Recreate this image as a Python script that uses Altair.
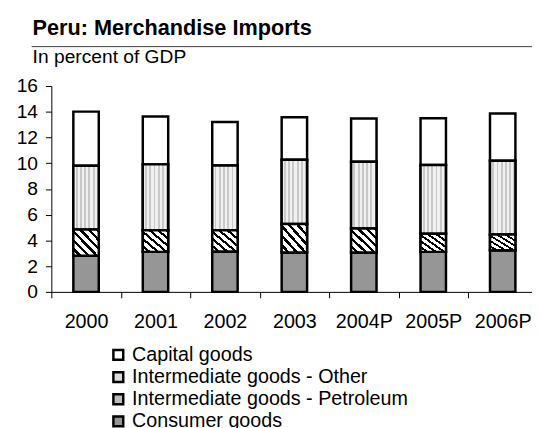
import altair as alt
import pandas as pd

years = ["2000", "2001", "2002", "2003", "2004P", "2005P", "2006P"]
consumer = [2.80, 3.11, 3.13, 3.06, 3.06, 3.11, 3.24]
petroleum = [2.04, 1.68, 1.66, 2.21, 1.86, 1.40, 1.22]
other = [4.97, 5.12, 5.04, 5.00, 5.19, 5.35, 5.73]
capital = [4.20, 3.72, 3.37, 3.31, 3.37, 3.64, 3.67]

cats = ["Consumer goods", "Intermediate goods - Petroleum",
        "Intermediate goods - Other", "Capital goods"]
series = [consumer, petroleum, other, capital]

rows = []
for ci, (c, vals) in enumerate(zip(cats, series)):
    for y, v in zip(years, vals):
        rows.append({"year": y, "category": c, "value": v, "order": ci})
df = pd.DataFrame(rows)

FONT = "Arial, Liberation Sans"

def stripes(n, c1, c2, frac, x1, y1, x2, y2):
    stops = []
    for i in range(n):
        a = i / n
        b = (i + frac) / n
        e = (i + 1) / n
        stops += [{"offset": a, "color": c1}, {"offset": b, "color": c1},
                  {"offset": b, "color": c2}, {"offset": e, "color": c2}]
    return {"gradient": "linear", "x1": x1, "y1": y1, "x2": x2, "y2": y2,
            "stops": stops}

other_fill = stripes(6, "#f0f0f0", "#c8c8c8", 0.55, 0, 0, 1, 0)
petro_fill = stripes(6, "#ffffff", "#000000", 0.6, 0, 1, 1, 0)

BAR_W = alt.RelativeBandSize(0.366)
SW = 2.5

x_enc = alt.X("year:N", sort=years,
              scale=alt.Scale(paddingInner=0, paddingOuter=0, range=[0, 493.5]),
              axis=alt.Axis(title=None, labelAngle=0, tickBand="extent",
                            tickSize=6, labelPadding=14, labelFontSize=20,
                            labelFont=FONT, labelColor="black",
                            domainColor="black", tickColor="black"))
y_enc = alt.Y("y1:Q", scale=alt.Scale(domain=[0, 16], nice=False),
              axis=alt.Axis(title=None, values=[0, 2, 4, 6, 8, 10, 12, 14, 16],
                            grid=False, labelOverlap=False,
                            tickSize=6, labelPadding=8, labelFontSize=19.5,
                            labelFont=FONT, labelColor="black",
                            domainColor="black", tickColor="black"))

base = alt.Chart(df).transform_stack(
    stack="value", groupby=["year"], as_=["y0", "y1"],
    sort=[alt.SortField("order", order="ascending")]
).encode(x=x_enc, y=y_enc, y2="y0:Q")

bars = base.mark_bar(stroke="black", strokeWidth=SW, width=BAR_W).encode(
    fill=alt.Fill("category:N",
                  scale=alt.Scale(domain=cats[::-1],
                                  range=["#ffffff", "#dcdcdc", "#bdbdbd", "#969696"]),
                  legend=alt.Legend(title=None, orient="none", legendX=58, legendY=263,
                                    symbolType="square", symbolSize=100,
                                    symbolStrokeColor="black", symbolStrokeWidth=2.5,
                                    symbolOpacity=1,
                                    labelFontSize=20, labelFont=FONT, labelColor="black",
                                    labelOffset=4, rowPadding=2.5, labelLimit=400)),
)

other_layer = base.transform_filter(
    alt.datum.category == "Intermediate goods - Other"
).mark_bar(stroke="black", strokeWidth=SW, fill=other_fill, width=BAR_W)

petro_layer = base.transform_filter(
    alt.datum.category == "Intermediate goods - Petroleum"
).mark_bar(stroke="black", strokeWidth=SW, fill=petro_fill, width=BAR_W)

rule = alt.Chart(pd.DataFrame({"a": [0]})).mark_rule(
    color="#404040", strokeWidth=1).encode(
    x=alt.value(-20), x2=alt.value(488), y=alt.value(-40))

chart = alt.layer(bars, other_layer, petro_layer, rule).properties(
    width=488, height=209,
    title=alt.Title("Peru: Merchandise Imports", subtitle="In percent of GDP",
                    anchor="start", frame="group", dx=-19,
                    font=FONT, fontSize=22, fontWeight="bold", color="black",
                    subtitleFont=FONT, subtitleFontSize=19.5, subtitleColor="black",
                    subtitlePadding=9, offset=-22),
    autosize=alt.AutoSizeParams(type="none"),
    padding={"left": 44, "top": 76, "right": 0, "bottom": 135},
).configure_view(stroke=None)

chart.save("out.html", embed_options={"renderer": "svg", "actions": False})
